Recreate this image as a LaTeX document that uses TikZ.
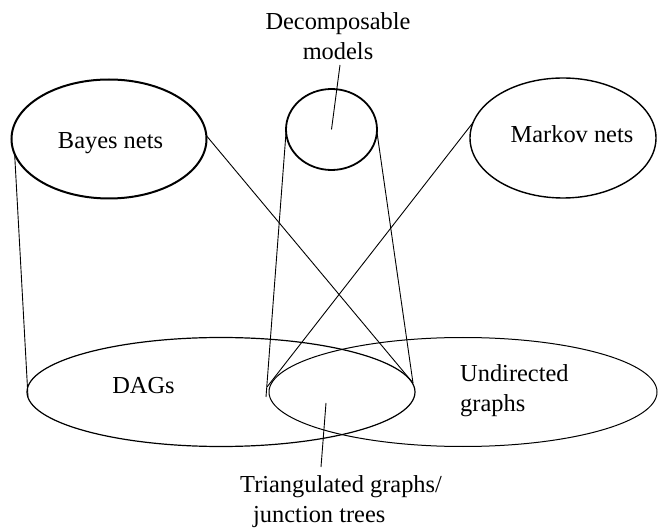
\documentclass[tikz,border=0pt]{standalone}
\usepackage{fontspec}
\setmainfont{Liberation Serif}
\usetikzlibrary{shapes.geometric}
\begin{document}
\begin{tikzpicture}[x=1pt,y=-1pt,
  set/.style={ellipse,draw,inner sep=0pt,outer sep=0pt},
  conn/.style={line width=0.9pt},
  lbl/.style={font=\fontsize{24.4}{30}\selectfont,inner sep=0pt,anchor=base}]
\useasboundingbox (0,0) rectangle (659,529);

% model classes (top row)
\node[set,line width=2pt,minimum width=195pt,minimum height=119pt] (bayes) at (109,139) {};
\node[set,line width=1.8pt,minimum width=91pt,minimum height=81pt] (decomp) at (331.5,129.5) {};
\node[set,line width=1.4pt,minimum width=186pt,minimum height=120pt] (markov) at (563,138) {};

% graph classes (bottom row)
\node[set,line width=1.2pt,minimum width=388pt,minimum height=109pt] (dags) at (221,392) {};
\node[set,line width=1pt,minimum width=388pt,minimum height=109pt] (undir) at (463,392) {};

% labels (multi-line nodes are placed by the baseline of their last line)
\node[lbl] (tbayes) at (110.5,149) {Bayes nets};
\node[lbl] (tmarkov) at (572,143) {Markov nets};
\node[lbl] (tdags) at (143.5,393) {DAGs};
\node[lbl,align=center] (tdecomp) at (338,60) {Decomposable\\models};
\node[lbl,align=left,anchor=base west] (tundir) at (460,412) {Undirected\\graphs};
\node[lbl,align=left,anchor=base west] (ttri) at (240,522) {Triangulated graphs/\\\hspace*{13pt}junction trees};

% free ends of the connectors
\coordinate (bl) at (28,397);
\coordinate (dr) at (413,383);
\coordinate (ml) at (267,387);
\coordinate (dl) at (266,397);
\coordinate (dtop) at (340,65);
\coordinate (ttop) at (321,467);
\coordinate (tin) at (326,403);

% mappings between the classes
\draw[conn] (bayes.189) -- (bl);
\draw[conn] (bayes.2) -- (dr);
\draw[conn] (decomp.357) -- (dr);
\draw[conn] (decomp.183) -- (dl);
\draw[conn] (markov.170) -- (ml);

% label pointers
\draw[conn] (dtop) -- (decomp.center);
\draw[conn] (tin) -- (ttop);
\end{tikzpicture}
\end{document}
